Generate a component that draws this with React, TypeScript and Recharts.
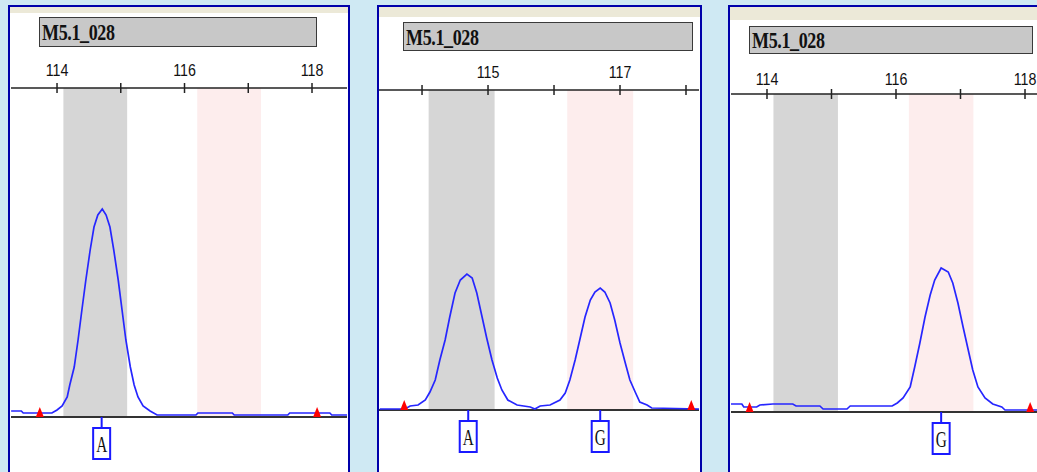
import {
    ComposedChart,
    Line,
    XAxis,
    YAxis,
    ReferenceArea,
    ReferenceLine,
    Scatter,
} from "recharts";

// allele bins (bp)
const binA = [114.1, 115.1];
const binG = [116.2, 117.2];

// axis ticks (bp)
const sizeTicks = [114, 115, 116, 117, 118];
const labelsEven = [114, 116, 118];
const labelsOdd = [115, 117];

// red size-standard markers (bp)
const markerSizes = [113.73, 118.08];

// sample 1 : homozygous A
const s1Size = [
    113.28, 113.44, 113.47, 113.92, 114.0, 114.08, 114.16, 114.2, 114.27, 114.33,
    114.39, 114.45, 114.52, 114.58, 114.64, 114.71, 114.77, 114.83, 114.89, 114.96,
    115.02, 115.08, 115.15, 115.21, 115.27, 115.35, 115.46, 115.57, 116.18, 116.21,
    116.75, 116.78, 117.62, 117.65, 118.28, 118.31, 118.55,
];
const s1Signal = [
    6, 6, 4, 4, 7, 11, 20, 32, 50, 77,
    107, 136, 167, 190, 202, 208, 202, 190, 167, 137,
    107, 77, 50, 32, 20, 11, 6, 2, 2, 4,
    4, 2, 2, 4, 4, 2, 2,
];
const s1Calls = [{ bp: 114.7, allele: "A" }];

// sample 2 : heterozygous A/G
const s2Size = [
    113.36, 113.74, 113.82, 113.94, 114.05, 114.12, 114.2, 114.27, 114.35, 114.42,
    114.5, 114.58, 114.68, 114.76, 114.83, 114.91, 114.98, 115.06, 115.14, 115.21,
    115.3, 115.44, 115.64, 115.71, 115.79, 115.94, 116.09, 116.17, 116.24, 116.32,
    116.39, 116.47, 116.55, 116.62, 116.7, 116.77, 116.85, 116.92, 117.0, 117.08,
    117.15, 117.23, 117.3, 117.41, 117.48, 118.2,
];
const s2Signal = [
    1, 1, 4, 5, 10, 18, 30, 50, 70, 93,
    117, 130, 136, 132, 117, 93, 72, 50, 32, 20,
    10, 5, 3, 1, 4, 5, 10, 17, 30, 50,
    70, 93, 110, 118, 122, 118, 107, 90, 67, 47,
    30, 18, 8, 5, 2, 1,
];
const s2Calls = [
    { bp: 114.7, allele: "A" },
    { bp: 116.7, allele: "G" },
];

// sample 3 : homozygous G
const s3Size = [
    113.44, 113.61, 113.64, 113.84, 113.89, 114.09, 114.4, 114.45, 114.82, 114.87,
    115.24, 115.29, 115.94, 116.02, 116.11, 116.22, 116.29, 116.37, 116.45, 116.53,
    116.6, 116.7, 116.81, 116.88, 116.96, 117.04, 117.12, 117.19, 117.27, 117.38,
    117.5, 117.64, 117.69, 118.4,
];
const s3Signal = [
    8, 8, 5, 5, 7, 8, 8, 6, 6, 3,
    3, 6, 6, 9, 14, 25, 45, 69, 95, 117,
    132, 144, 140, 129, 109, 85, 62, 42, 25, 14,
    8, 5, 2, 2,
];
const s3Calls = [{ bp: 116.7, allele: "G" }];

const TRACE = "#2626ff";
const BORDER = "#0000aa";

function SizeTick(props: any) {
    const { x, y, payload, labels, lift } = props;
    const show = labels.includes(payload.value);
    return (
        <g>
            <line x1={x} x2={x} y1={y - 5} y2={y + 5} stroke="#222" strokeWidth={1.5} />
            {show && (
                <text
                    transform={`translate(${x},${y - lift}) scale(0.95,1.12)`}
                    textAnchor="middle"
                    dominantBaseline="central"
                    fontFamily="'Liberation Sans', Arial, sans-serif"
                    fontSize={15}
                    fill="#111"
                >
                    {payload.value}
                </text>
            )}
        </g>
    );
}

function Marker(props: any) {
    const { cx, cy } = props;
    return (
        <polygon
            points={`${cx - 4},${cy} ${cx + 4},${cy} ${cx},${cy - 10}`}
            fill="#ff0000"
        />
    );
}

function CallBox(props: any) {
    const { cx, cy, payload } = props;
    return (
        <g>
            <line x1={cx} x2={cx} y1={cy} y2={cy + 11} stroke="#1a1aff" strokeWidth={2} />
            <rect
                x={cx - 8.5}
                y={cy + 11}
                width={17}
                height={31}
                fill="#fff"
                stroke="#1a1aff"
                strokeWidth={2}
            />
            <text
                transform={`translate(${cx},${cy + 27}) scale(0.85,1.3)`}
                textAnchor="middle"
                dominantBaseline="central"
                fontFamily="'Liberation Serif', serif"
                fontSize={18}
                fill="#111"
            >
                {payload.allele}
            </text>
        </g>
    );
}

type PanelProps = {
    left: number;
    right: number;
    top: number;
    stripH: number;
    titleBox: { x: number; y: number; w: number; h: number };
    chartLeft: number;
    chartWidth: number;
    axisY: number;
    baseY: number;
    domain: [number, number];
    labels: number[];
    lift: number;
    size: number[];
    signal: number[];
    calls: { bp: number; allele: string }[];
};

function Panel(p: PanelProps) {
    const chartTop = 60;
    const chartHeight = 472 - chartTop;
    const axisH = p.axisY - chartTop;
    const plotH = p.baseY - p.axisY;
    const rows = p.size.map((bp, i) => ({ bp, h: p.signal[i] }));
    const markers = markerSizes.map((bp) => ({ bp, h: 0 }));
    const calls = p.calls.map((c) => ({ ...c, h: 0 }));

    return (
        <>
            <div
                style={{
                    position: "absolute",
                    left: p.left,
                    top: p.top,
                    width: p.right - p.left,
                    height: 480,
                    borderLeft: `2.5px solid ${BORDER}`,
                    borderTop: `2.5px solid ${BORDER}`,
                    borderRight: `2.5px solid ${BORDER}`,
                    background: "#fff",
                    boxSizing: "border-box",
                }}
            >
                <div style={{ height: p.stripH, background: "#ece9d8" }} />
            </div>
            <div
                style={{
                    position: "absolute",
                    left: p.titleBox.x,
                    top: p.titleBox.y,
                    width: p.titleBox.w,
                    height: p.titleBox.h,
                    background: "#c8c8c8",
                    border: "1.5px solid #3a3a3a",
                    boxSizing: "border-box",
                    color: "#111",
                }}
            >
                <span
                    style={{
                        position: "absolute",
                        left: 2,
                        top: "50%",
                        fontFamily: "'Liberation Serif', serif",
                        fontWeight: "bold",
                        fontSize: 20,
                        lineHeight: "20px",
                        whiteSpace: "nowrap",
                        transform: "translateY(-50%) scale(0.9, 1.15)",
                        transformOrigin: "left center",
                        letterSpacing: -0.4,
                    }}
                >
                    M5.1_028
                </span>
            </div>
            <div
                style={{
                    position: "absolute",
                    left: p.chartLeft,
                    top: chartTop,
                }}
            >
                <ComposedChart
                    width={p.chartWidth}
                    height={chartHeight}
                    data={rows}
                    margin={{
                        top: 0,
                        right: 0,
                        left: 0,
                        bottom: chartHeight - axisH - plotH,
                    }}
                >
                    <XAxis
                        dataKey="bp"
                        type="number"
                        orientation="top"
                        domain={p.domain}
                        ticks={sizeTicks}
                        height={axisH}
                        tickSize={0}
                        tickMargin={0}
                        tickLine={false}
                        axisLine={{ stroke: "#222", strokeWidth: 1.5 }}
                        tick={(t: any) => (
                            <SizeTick {...t} labels={p.labels} lift={p.lift} />
                        )}
                        interval={0}
                        allowDataOverflow
                    />
                    <YAxis type="number" domain={[0, plotH]} hide />
                    <ReferenceArea
                        x1={binA[0]}
                        x2={binA[1]}
                        fill="#d6d6d6"
                        fillOpacity={1}
                        stroke="none"
                    />
                    <ReferenceArea
                        x1={binG[0]}
                        x2={binG[1]}
                        fill="#fdeded"
                        fillOpacity={1}
                        stroke="none"
                    />
                    <ReferenceLine y={0} stroke="#333" strokeWidth={2} />
                    <Line
                        dataKey="h"
                        type="linear"
                        stroke={TRACE}
                        strokeWidth={1.7}
                        dot={false}
                        isAnimationActive={false}
                    />
                    <Scatter
                        data={markers}
                        dataKey="h"
                        shape={<Marker />}
                        isAnimationActive={false}
                    />
                    <Scatter
                        data={calls}
                        dataKey="h"
                        shape={<CallBox />}
                        isAnimationActive={false}
                    />
                </ComposedChart>
            </div>
        </>
    );
}

export default function App() {
    return (
        <div
            style={{
                position: "absolute",
                left: 0,
                top: 0,
                width: 1037,
                height: 472,
                overflow: "hidden",
                background: "#cfe9f3",
            }}
        >
            <Panel
                left={8}
                right={350}
                top={5}
                stripH={6}
                titleBox={{ x: 39, y: 17, w: 278, h: 30 }}
                chartLeft={11}
                chartWidth={336}
                axisY={88}
                baseY={417}
                domain={[113.278, 118.549]}
                labels={labelsEven}
                lift={18}
                size={s1Size}
                signal={s1Signal}
                calls={s1Calls}
            />
            <Panel
                left={377}
                right={702}
                top={5}
                stripH={10}
                titleBox={{ x: 403, y: 22, w: 290, h: 29 }}
                chartLeft={379}
                chartWidth={320}
                axisY={90}
                baseY={410}
                domain={[113.348, 118.197]}
                labels={labelsOdd}
                lift={18}
                size={s2Size}
                signal={s2Signal}
                calls={s2Calls}
            />
            <Panel
                left={728}
                right={1070}
                top={5}
                stripH={13}
                titleBox={{ x: 749, y: 26, w: 284, h: 28 }}
                chartLeft={731}
                chartWidth={320}
                axisY={94}
                baseY={412}
                domain={[113.442, 118.403]}
                labels={labelsEven}
                lift={15}
                size={s3Size}
                signal={s3Signal}
                calls={s3Calls}
            />
        </div>
    );
}
